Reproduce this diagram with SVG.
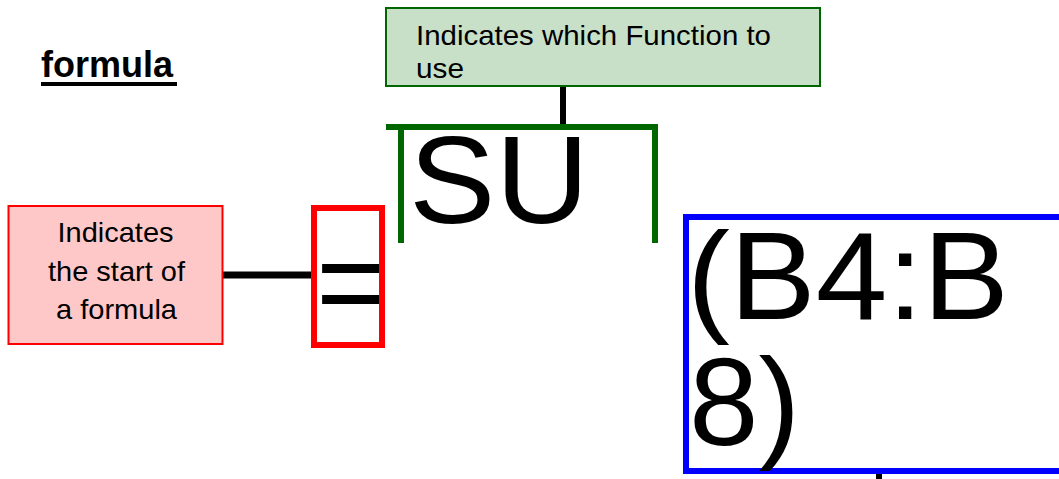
<svg xmlns="http://www.w3.org/2000/svg" width="1059" height="479" viewBox="0 0 1059 479">
<style>
.t{font-family:"Liberation Sans",Arial,sans-serif;fill:#000}
.lbl{font-size:28px}
.big{font-size:125px}
.conn{stroke:#000;fill:none}
</style>
<defs>
<clipPath id="eqclip"><rect x="317" y="211" width="62" height="131"/></clipPath>
</defs>
<rect width="1059" height="479" fill="#fff"/>
<g id="title">
<text class="t" x="41" y="77" font-size="36" font-weight="bold" textLength="132" lengthAdjust="spacingAndGlyphs">formula</text>
<rect x="41" y="82" width="136" height="4" fill="#000"/>
</g>
<g id="connectors">
<line class="conn" x1="563" y1="86" x2="563" y2="124" stroke-width="6"/>
<line class="conn" x1="223" y1="275" x2="311" y2="275" stroke-width="7"/>
<line class="conn" x1="879" y1="474" x2="879" y2="479" stroke-width="6"/>
</g>
<g id="function-note">
<rect x="386" y="8" width="434" height="78" fill="#c8dfc8" stroke="#006600" stroke-width="2"/>
<text class="t lbl" x="416" y="45" textLength="355" lengthAdjust="spacingAndGlyphs">Indicates which Function to</text>
<text class="t lbl" x="416" y="78" textLength="48" lengthAdjust="spacingAndGlyphs">use</text>
</g>
<g id="start-note">
<rect x="8.5" y="206" width="214" height="138" fill="#ffc8c8" stroke="#ff0000" stroke-width="2"/>
<text class="t lbl" x="115.5" y="242" text-anchor="middle" textLength="116" lengthAdjust="spacingAndGlyphs">Indicates</text>
<text class="t lbl" x="116.5" y="281" text-anchor="middle" textLength="137" lengthAdjust="spacingAndGlyphs">the start of</text>
<text class="t lbl" x="116.5" y="319" text-anchor="middle" textLength="121" lengthAdjust="spacingAndGlyphs">a formula</text>
</g>
<g id="equals">
<rect x="314" y="208" width="68" height="137" fill="none" stroke="#ff0000" stroke-width="6"/>
<text class="t big" x="316" y="325" clip-path="url(#eqclip)">=</text>
</g>
<g id="function-name">
<path d="M386 127 H658 M401 127 V243 M655 127 V243" fill="none" stroke="#006600" stroke-width="6"/>
<text class="t big" x="409" y="223" textLength="180" lengthAdjust="spacingAndGlyphs">SU</text>
</g>
<g id="range">
<rect x="686" y="217" width="400" height="254" fill="none" stroke="#0000ff" stroke-width="6"/>
<text class="t big" x="687" y="319" textLength="322" lengthAdjust="spacingAndGlyphs">(B4:B</text>
<text class="t big" x="689" y="445">8)</text>
</g>
</svg>
